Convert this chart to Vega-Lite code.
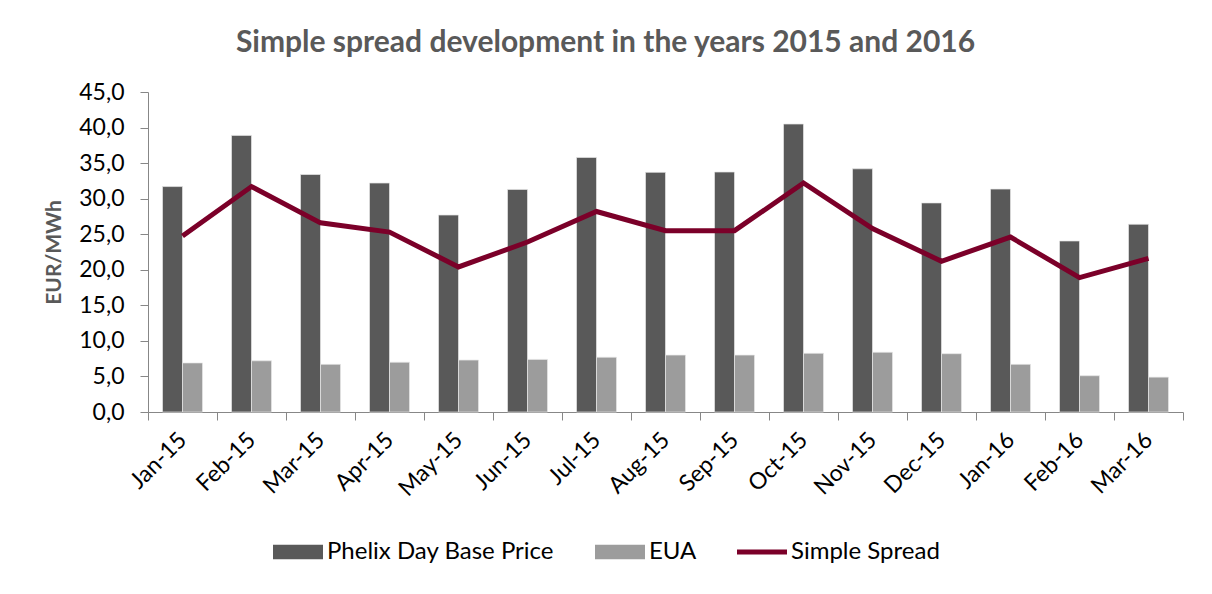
{
  "$schema": "https://vega.github.io/schema/vega-lite/v6.json",
  "width": 1035,
  "height": 320,
  "autosize": {"type": "none"},
  "padding": {"left": 148, "top": 92, "right": 29, "bottom": 182},
  "background": "white",
  "title": {
    "text": "Simple spread development in the years 2015 and 2016",
    "fontSize": 30,
    "font": "Lato",
    "fontWeight": "bold",
    "color": "#595959",
    "anchor": "middle",
    "dx": -60,
    "offset": 23
  },
  "datasets": {
    "bars": [
      {"month": "Jan-15", "series": "Phelix Day Base Price", "value": 31.7},
      {"month": "Feb-15", "series": "Phelix Day Base Price", "value": 38.9},
      {"month": "Mar-15", "series": "Phelix Day Base Price", "value": 33.4},
      {"month": "Apr-15", "series": "Phelix Day Base Price", "value": 32.2},
      {"month": "May-15", "series": "Phelix Day Base Price", "value": 27.7},
      {"month": "Jun-15", "series": "Phelix Day Base Price", "value": 31.3},
      {"month": "Jul-15", "series": "Phelix Day Base Price", "value": 35.8},
      {"month": "Aug-15", "series": "Phelix Day Base Price", "value": 33.7},
      {"month": "Sep-15", "series": "Phelix Day Base Price", "value": 33.75},
      {"month": "Oct-15", "series": "Phelix Day Base Price", "value": 40.5},
      {"month": "Nov-15", "series": "Phelix Day Base Price", "value": 34.2},
      {"month": "Dec-15", "series": "Phelix Day Base Price", "value": 29.4},
      {"month": "Jan-16", "series": "Phelix Day Base Price", "value": 31.35},
      {"month": "Feb-16", "series": "Phelix Day Base Price", "value": 24.05},
      {"month": "Mar-16", "series": "Phelix Day Base Price", "value": 26.4},
      {"month": "Jan-15", "series": "EUA", "value": 6.9},
      {"month": "Feb-15", "series": "EUA", "value": 7.2},
      {"month": "Mar-15", "series": "EUA", "value": 6.7},
      {"month": "Apr-15", "series": "EUA", "value": 7.0},
      {"month": "May-15", "series": "EUA", "value": 7.3},
      {"month": "Jun-15", "series": "EUA", "value": 7.4},
      {"month": "Jul-15", "series": "EUA", "value": 7.7},
      {"month": "Aug-15", "series": "EUA", "value": 8.0},
      {"month": "Sep-15", "series": "EUA", "value": 8.0},
      {"month": "Oct-15", "series": "EUA", "value": 8.25},
      {"month": "Nov-15", "series": "EUA", "value": 8.4},
      {"month": "Dec-15", "series": "EUA", "value": 8.2},
      {"month": "Jan-16", "series": "EUA", "value": 6.7},
      {"month": "Feb-16", "series": "EUA", "value": 5.1},
      {"month": "Mar-16", "series": "EUA", "value": 4.9}
    ],
    "spread": [
      {"month": "Jan-15", "value": 24.75},
      {"month": "Feb-15", "value": 31.7},
      {"month": "Mar-15", "value": 26.6},
      {"month": "Apr-15", "value": 25.3},
      {"month": "May-15", "value": 20.4},
      {"month": "Jun-15", "value": 23.9},
      {"month": "Jul-15", "value": 28.2},
      {"month": "Aug-15", "value": 25.5},
      {"month": "Sep-15", "value": 25.5},
      {"month": "Oct-15", "value": 32.2},
      {"month": "Nov-15", "value": 25.8},
      {"month": "Dec-15", "value": 21.2},
      {"month": "Jan-16", "value": 24.6},
      {"month": "Feb-16", "value": 18.9},
      {"month": "Mar-16", "value": 21.6}
    ]
  },
  "layer": [
    {
      "data": {"name": "bars"},
      "mark": {"type": "bar", "stroke": "#e6e6e6", "strokeWidth": 0.7},
      "encoding": {
        "x": {
          "field": "month",
          "type": "ordinal",
          "sort": ["Jan-15", "Feb-15", "Mar-15", "Apr-15", "May-15", "Jun-15", "Jul-15", "Aug-15", "Sep-15", "Oct-15", "Nov-15", "Dec-15", "Jan-16", "Feb-16", "Mar-16"],
          "scale": {"paddingInner": 0, "paddingOuter": 0},
          "axis": {
            "title": null,
            "tickBand": "extent",
            "labelAngle": -45,
            "labelAlign": "right",
            "labelBaseline": "middle",
            "labelFont": "Lato",
            "labelFontSize": 23,
            "labelPadding": 16,
            "labelColor": "#000000",
            "labelOverlap": false,
            "tickSize": 8,
            "tickColor": "#878787",
            "domainColor": "#878787",
            "grid": false
          }
        },
        "xOffset": {
          "field": "series",
          "sort": ["Phelix Day Base Price", "EUA"],
          "scale": {"paddingInner": 0, "paddingOuter": 0.725}
        },
        "y": {
          "field": "value",
          "type": "quantitative",
          "scale": {"domain": [0, 45], "nice": false},
          "axis": {
            "title": "EUR/MWh",
            "titleFont": "Lato",
            "titleFontSize": 21,
            "titleFontWeight": "bold",
            "titleColor": "#595959",
            "titlePadding": 14,
            "values": [0, 5, 10, 15, 20, 25, 30, 35, 40, 45],
            "labelExpr": "replace(format(datum.value, '.1f'), '.', ',')",
            "labelFont": "Lato",
            "labelFontSize": 23,
            "labelColor": "#000000",
            "labelPadding": 16,
            "labelOverlap": false,
            "tickSize": 8,
            "tickColor": "#878787",
            "domainColor": "#878787",
            "grid": false
          }
        },
        "color": {
          "field": "series",
          "type": "nominal",
          "scale": {
            "domain": ["Phelix Day Base Price", "EUA", "Simple Spread"],
            "range": ["#595959", "#9C9C9C", "#7B0029"]
          },
          "legend": {
            "orient": "none",
            "legendX": 125,
            "legendY": 435,
            "direction": "horizontal",
            "title": null,
            "labelFont": "Lato",
            "labelFontSize": 24,
            "labelColor": "#000000",
            "labelLimit": 400,
            "symbolSize": 2500,
            "columnPadding": 40,
            "labelOffset": 4,
            "encode": {
              "symbols": {
                "update": {
                  "shape": {"signal": "datum.value === 'Simple Spread' ? 'M-1,-0.1H1V0.1H-1Z' : 'M-1,-0.29H1V0.29H-1Z'"},
                  "fill": {"signal": "scale('color', datum.value)"},
                  "stroke": {"value": "transparent"},
                  "strokeWidth": {"value": 0},
                  "opacity": {"value": 1}
                }
              }
            }
          }
        }
      }
    },
    {
      "data": {"name": "spread"},
      "mark": {"type": "line", "strokeWidth": 5, "strokeJoin": "miter"},
      "encoding": {
        "x": {
          "field": "month",
          "type": "ordinal",
          "sort": ["Jan-15", "Feb-15", "Mar-15", "Apr-15", "May-15", "Jun-15", "Jul-15", "Aug-15", "Sep-15", "Oct-15", "Nov-15", "Dec-15", "Jan-16", "Feb-16", "Mar-16"],
          "axis": {
            "title": null,
            "tickBand": "extent",
            "labelAngle": -45,
            "labelAlign": "right",
            "labelBaseline": "middle",
            "labelFont": "Lato",
            "labelFontSize": 23,
            "labelPadding": 16,
            "labelColor": "#000000",
            "labelOverlap": false,
            "tickSize": 8,
            "tickColor": "#878787",
            "domainColor": "#878787",
            "grid": false
          }
        },
        "y": {
          "field": "value",
          "type": "quantitative",
          "axis": {
            "title": "EUR/MWh",
            "titleFont": "Lato",
            "titleFontSize": 21,
            "titleFontWeight": "bold",
            "titleColor": "#595959",
            "titlePadding": 14,
            "values": [0, 5, 10, 15, 20, 25, 30, 35, 40, 45],
            "labelExpr": "replace(format(datum.value, '.1f'), '.', ',')",
            "labelFont": "Lato",
            "labelFontSize": 23,
            "labelColor": "#000000",
            "labelPadding": 16,
            "labelOverlap": false,
            "tickSize": 8,
            "tickColor": "#878787",
            "domainColor": "#878787",
            "grid": false
          }
        },
        "color": {
          "datum": "Simple Spread",
          "legend": {
            "orient": "none",
            "legendX": 125,
            "legendY": 435,
            "direction": "horizontal",
            "title": null,
            "labelFont": "Lato",
            "labelFontSize": 24,
            "labelColor": "#000000",
            "labelLimit": 400,
            "symbolSize": 2500,
            "columnPadding": 40,
            "labelOffset": 4,
            "encode": {
              "symbols": {
                "update": {
                  "shape": {"signal": "datum.value === 'Simple Spread' ? 'M-1,-0.1H1V0.1H-1Z' : 'M-1,-0.29H1V0.29H-1Z'"},
                  "fill": {"signal": "scale('color', datum.value)"},
                  "stroke": {"value": "transparent"},
                  "strokeWidth": {"value": 0},
                  "opacity": {"value": 1}
                }
              }
            }
          }
        }
      }
    }
  ],
  "config": {"view": {"stroke": null}, "font": "Lato"}
}
